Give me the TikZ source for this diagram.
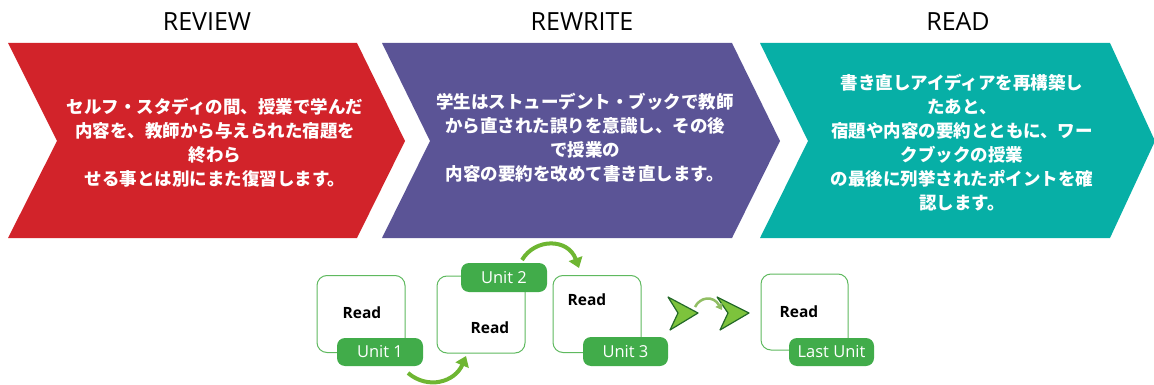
\documentclass[tikz,border=0pt]{standalone}
\usepackage{fontspec}
\setmainfont{Open Sans}
\newfontfamily\jp{Noto Sans CJK JP}
\usetikzlibrary{arrows.meta}
\definecolor{cred}{RGB}{210,35,42}
\definecolor{cpurple}{RGB}{91,84,150}
\definecolor{cteal}{RGB}{7,175,166}
\definecolor{tagg}{RGB}{65,172,74}
\definecolor{boxg}{RGB}{95,185,95}
\definecolor{arrg}{RGB}{110,182,50}
\definecolor{softg}{RGB}{145,190,100}
\definecolor{spearf}{RGB}{125,195,60}
\definecolor{speard}{RGB}{35,105,40}
\tikzset{
  heading/.style={font=\fontsize{25}{30}\selectfont, text=black},
  jptext/.style={font=\jp\bfseries\fontsize{17.5}{24}\selectfont, text=white, align=center, inner sep=0pt},
  unitbox/.style={draw=boxg, line width=1pt, fill=white, rounded corners=10pt, minimum width=88pt, minimum height=77pt, inner sep=0pt},
  tag/.style={fill=tagg, rounded corners=8pt, minimum width=86pt, minimum height=28pt, inner sep=0pt, text=white, font=\fontsize{16.5}{18}\selectfont},
  readlbl/.style={font=\bfseries\fontsize{15.5}{18}\selectfont, text=black, inner sep=0pt},
  curvarrow/.style={draw=arrg, line width=4pt, -{Triangle[width=14pt,length=10pt]}},
  smallarrow/.style={draw=softg, line width=2.5pt, -{Triangle[width=8pt,length=6pt]}},
  spear/.style={fill=spearf, draw=speard, line width=1.2pt, line join=round}
}
\begin{document}
\begin{tikzpicture}[x=1pt,y=-1pt]
\useasboundingbox (0,0) rectangle (1154,385);
% chevrons
\fill[cred] (8,43) -- (357,43) -- (405,141) -- (357,238) -- (8,238) -- (57,141) -- cycle;
\fill[cpurple] (382,43) -- (732,43) -- (780,141) -- (732,238) -- (382,238) -- (430,141) -- cycle;
\fill[cteal] (760,43) -- (1110,43) -- (1155,141) -- (1110,238) -- (760,238) -- (808,141) -- cycle;
% headings
\node[heading] (h1) at (207,22) {REVIEW};
\node[heading] (h2) at (582,22) {REWRITE};
\node[heading] (h3) at (958,22) {READ};
% texts
\node[jptext] (t1) at (215,143) {セルフ・スタディの間、授業で学んだ\\内容を、教師から与えられた宿題を\\終わら\\せる事とは別にまた復習します。};
\node[jptext] (t2) at (585,138) {学生はストューデント・ブックで教師\\から直された誤りを意識し、その後\\で授業の\\内容の要約を改めて書き直します。};
\node[jptext] (t3) at (962,143) {書き直しアイディアを再構築し\\たあと、\\宿題や内容の要約とともに、ワー\\クブックの授業\\の最後に列挙されたポイントを確\\認します。};
% unit boxes
\node[unitbox] (b1) at (361,314) {};
\node[unitbox] (b2) at (481,314.5) {};
\node[unitbox] (b3) at (597,314) {};
\node[unitbox, minimum width=87pt, minimum height=76pt] (b4) at (804.5,312) {};
\node[readlbl] (r1) at (362,313) {Read};
\node[readlbl] (r2) at (490,328) {Read};
\node[readlbl] (r3) at (587,300) {Read};
\node[readlbl] (r4) at (799,312) {Read};
\node[tag] (u1) at (380,352) {Unit 1};
\node[tag, minimum height=29pt] (u2) at (504,277.5) {Unit 2};
\node[tag, minimum width=85pt, minimum height=29pt] (u3) at (625.5,351.5) {Unit 3};
\node[tag, minimum width=85pt] (u4) at (831.5,352) {Last Unit};
% curved arrows
\coordinate (a1s) at (408,373);
\coordinate (a1e) at (466,356);
\coordinate (a2s) at (522,260);
\coordinate (a2e) at (579,268);
\draw[curvarrow] (a1s) .. controls (428,390) and (455,382) .. (a1e);
\draw[curvarrow] (a2s) .. controls (535,238) and (568,238) .. (a2e);
% spears
\path[spear] (668,297) -- (698,313) -- (670,330) -- (678,313) -- cycle;
\path[spear] (717,297) -- (749,313) -- (720,330) -- (728,313) -- cycle;
\coordinate (s1) at (695,307);
\coordinate (s2) at (722,310);
\draw[smallarrow] (s1) .. controls (700,297) and (713,295) .. (s2);
\end{tikzpicture}
\end{document}
